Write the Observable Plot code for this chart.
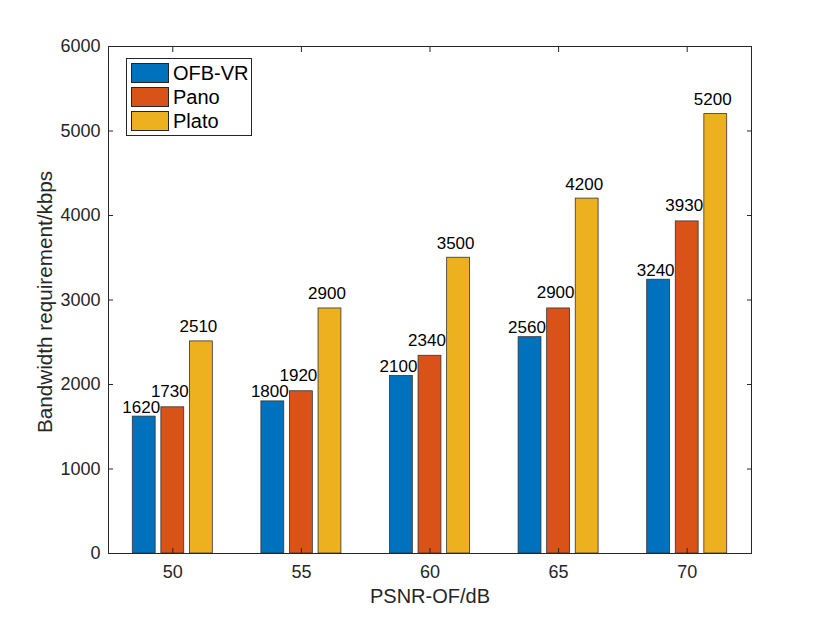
<!DOCTYPE html>
<html>
<head>
<meta charset="utf-8">
<script src="https://cdn.jsdelivr.net/npm/d3@7"></script>
<script src="https://cdn.jsdelivr.net/npm/@observablehq/plot@0.6"></script>
<style>
  html, body { margin: 0; padding: 0; background: #fff; }
  #wrap { position: relative; width: 830px; height: 622px; font-family: "Liberation Sans", Arial, sans-serif; }
  #legend { position: absolute; left: 126px; top: 58px; width: 124px; height: 76px; border: 1px solid #262626; background: #fff; box-sizing: content-box; }
  .item { position: absolute; left: 4px; height: 20px; display: flex; align-items: center; }
  .sw { width: 36px; height: 18px; border: 1px solid #262626; margin-right: 4px; }
  .lbl { font-size: 20px; color: #000; line-height: 20px; }
</style>
</head>
<body>
<div id="wrap"><div id="chart"></div><div id="legend"></div></div>
<script>
const groups = [50, 55, 60, 65, 70];
const seriesNames = ["OFB-VR", "Pano", "Plato"];
const colors = ["#0072BD", "#D95319", "#EDB120"];
const ofbvr = [1620, 1800, 2100, 2560, 3240];
const pano = [1730, 1920, 2340, 2900, 3930];
const plato = [2510, 2900, 3500, 4200, 5200];
const yTicks = [0, 1000, 2000, 3000, 4000, 5000, 6000];
const xLabel = "PSNR-OF/dB";
const yLabel = "Bandwidth requirement/kbps";

const seriesValues = [ofbvr, pano, plato];
const spacing = 5;
const groupWidth = spacing * Math.min(0.8, 3 / (3 + 1.5));
const step = groupWidth / 3;
const barW = step * 0.8;

const rows = [];
seriesValues.forEach((vals, si) => {
  vals.forEach((v, gi) => {
    rows.push({ group: groups[gi], series: seriesNames[si], si, value: v, xc: groups[gi] + (si - 1) * step });
  });
});

const labelLift = [4, 10, 9];
const axisColor = "#262626";
const chart = Plot.plot({
  width: 830,
  height: 622,
  marginLeft: 108,
  marginRight: 79,
  marginTop: 46,
  marginBottom: 69,
  style: { fontFamily: "Liberation Sans, Arial, sans-serif", color: axisColor, background: "#fff" },
  x: { domain: [47.5, 72.5] },
  y: { domain: [0, 6000] },
  color: { domain: seriesNames, range: colors },
  marks: [
    Plot.rectY(rows, {
      x1: d => d.xc - barW / 2,
      x2: d => d.xc + barW / 2,
      y1: 0,
      y2: "value",
      fill: "series",
      stroke: "#333",
      strokeWidth: 0.8
    }),
    ...seriesNames.map((name, si) => Plot.text(rows.filter(r => r.si === si), {
      x: "xc",
      y: "value",
      text: d => String(d.value),
      lineAnchor: "bottom",
      dx: -3,
      dy: -labelLift[si],
      fontSize: 17,
      fill: "#000"
    })),
    Plot.frame({ stroke: axisColor, strokeWidth: 1 }),
    Plot.axisY(yTicks, { anchor: "left", tickSize: -5, tickPadding: 13, fontSize: 18, stroke: axisColor, fill: axisColor, tickFormat: d => String(d), label: null }),
    Plot.axisY(yTicks, { anchor: "right", tickSize: -5, text: null, label: null, stroke: axisColor }),
    Plot.axisX(groups, { anchor: "bottom", tickSize: -5, tickPadding: 17, fontSize: 18, stroke: axisColor, fill: axisColor, tickFormat: d => String(d), label: null }),
    Plot.axisX(groups, { anchor: "top", tickSize: -5, text: null, label: null, stroke: axisColor }),
    Plot.text([xLabel], { frameAnchor: "bottom", dy: 43, lineAnchor: "middle", textAnchor: "middle", fontSize: 20, fill: axisColor }),
    Plot.text([yLabel], { frameAnchor: "left", dx: -63, dy: 2, rotate: -90, lineAnchor: "middle", textAnchor: "middle", fontSize: 20.7, fill: axisColor })
  ]
});
document.getElementById("chart").appendChild(chart);

const legend = document.getElementById("legend");
seriesNames.forEach((name, i) => {
  const item = document.createElement("div");
  item.className = "item";
  item.style.top = (4 + i * 24) + "px";
  const sw = document.createElement("div");
  sw.className = "sw";
  sw.style.background = colors[i];
  const lbl = document.createElement("span");
  lbl.className = "lbl";
  lbl.textContent = name;
  item.appendChild(sw);
  item.appendChild(lbl);
  legend.appendChild(item);
});
</script>
</body>
</html>
